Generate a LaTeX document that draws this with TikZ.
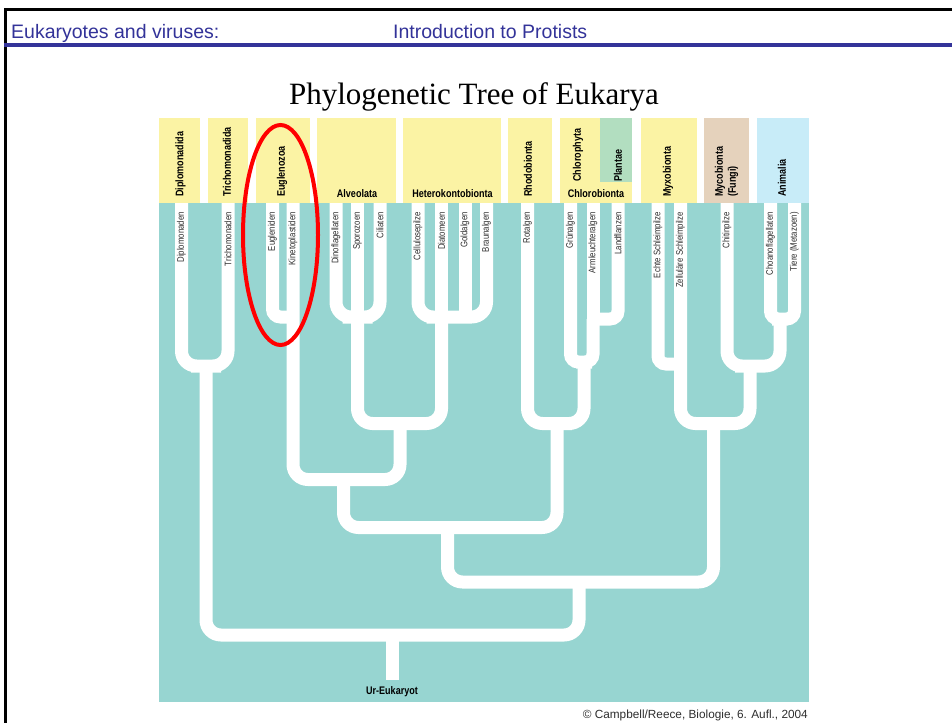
\documentclass[tikz,border=0pt]{standalone}
\usepackage{fontspec}
\setmainfont{Liberation Serif}
\setsansfont{Liberation Sans}
\newfontfamily\narrowfont[FakeStretch=0.82]{Liberation Sans}
\usetikzlibrary{positioning}
\definecolor{slideblue}{RGB}{51,51,153}
\definecolor{treeteal}{RGB}{151,213,209}
\definecolor{cladeyellow}{RGB}{251,243,164}
\definecolor{cladegreen}{RGB}{178,222,192}
\definecolor{cladetan}{RGB}{229,210,188}
\definecolor{cladesky}{RGB}{200,236,248}
\definecolor{labelgray}{RGB}{45,45,45}

\begin{document}
\begin{tikzpicture}[x=1pt, y=-1pt,
    branch/.style={draw=white, line width=13pt, rounded corners=15pt},
    twig/.style={draw=white, line width=13pt, rounded corners=8pt},
    taxon/.style={font=\narrowfont\fontsize{9.5}{10}\selectfont, text=labelgray,
                  rotate=90, anchor=east, inner sep=0pt},
    group/.style={font=\narrowfont\bfseries\fontsize{11}{13}\selectfont, text=black,
                  rotate=90, anchor=west, inner sep=0pt, align=left},
    grouph/.style={font=\narrowfont\bfseries\fontsize{11}{13}\selectfont, text=black,
                   anchor=base, inner sep=0pt},
]
    \useasboundingbox (0,0) rectangle (952,723);

    % Slide frame
    \draw[black, line width=2.5pt] (4,9.5) -- (952,9.5);
    \draw[black, line width=2.5pt] (5.5,8.3) -- (5.5,723);
    \draw[slideblue, line width=3.3pt] (4.3,45) -- (952,45);
    \node[font=\sffamily\fontsize{19.5}{22}\selectfont, text=slideblue, anchor=base west,
          inner sep=0pt] (topic) at (11,38) {Eukaryotes and viruses:};
    \node[font=\sffamily\fontsize{19.5}{22}\selectfont, text=slideblue, anchor=base west,
          inner sep=0pt] (section) at (393,38) {Introduction to Protists};
    \node[font=\fontsize{31}{36}\selectfont, anchor=base, inner sep=0pt] (title)
        at (474,104) {Phylogenetic Tree of Eukarya};

    % Clade boxes
    \fill[treeteal] (159,203) rectangle (809,702);
    \fill[cladeyellow] (159,118) rectangle (200,203);
    \fill[cladeyellow] (208,118) rectangle (248,203);
    \fill[cladeyellow] (256,118) rectangle (310,203);
    \fill[cladeyellow] (317,118) rectangle (396,203);
    \fill[cladeyellow] (403,118) rectangle (501,203);
    \fill[cladeyellow] (508,118) rectangle (552,203);
    \fill[cladeyellow] (560,118) rectangle (600,203);
    \fill[cladegreen] (600,118) rectangle (632,182);
    \fill[cladeyellow] (600,182) rectangle (632,203);
    \fill[cladeyellow] (641,118) rectangle (697,203);
    \fill[cladetan] (704,118) rectangle (749,203);
    \fill[cladesky] (757,118) rectangle (809,203);

    \node[group] (diplomonadida) at (180.5,197) {Diplomonadida};
    \node[group] (trichomonadida) at (227,197) {Trichomonadida};
    \node[group] (euglenozoa) at (282,197) {Euglenozoa};
    \node[grouph] (alveolata) at (357,197.5) {Alveolata};
    \node[grouph] (heterokonto) at (452.5,197.5) {Heterokontobionta};
    \node[group] (rhodobionta) at (528,197) {Rhodobionta};
    \node[group] (chlorophyta) at (578,182) {Chlorophyta};
    \node[group] (plantae) at (618,182) {Plantae};
    \node[grouph] (chlorobionta) at (596,197.5) {Chlorobionta};
    \node[group] (myxobionta) at (668,197) {Myxobionta};
    \node[group] (mycobionta) at (726.5,197) {Mycobionta\\(Fungi)};
    \node[group] (animalia) at (782,197) {Animalia};

    % Leaves
    \coordinate (dip) at (181.5,203);
    \coordinate (tri) at (228,203);
    \coordinate (eug) at (272.5,203);
    \coordinate (kin) at (293,203);
    \coordinate (din) at (336,203);
    \coordinate (spo) at (357.5,203);
    \coordinate (cil) at (380,203);
    \coordinate (cel) at (418,203);
    \coordinate (dia) at (441.5,203);
    \coordinate (gol) at (465,203);
    \coordinate (bra) at (486.5,203);
    \coordinate (rot) at (527.5,203);
    \coordinate (gru) at (570.5,203);
    \coordinate (arm) at (593,203);
    \coordinate (lan) at (618,203);
    \coordinate (ech) at (658,203);
    \coordinate (zel) at (680.5,203);
    \coordinate (chi) at (727,203);
    \coordinate (cho) at (770.5,203);
    \coordinate (tie) at (794.5,203);

    % Junctions
    \coordinate (jdt) at (206,366);
    \coordinate (jeu) at (293,317);
    \coordinate (jal) at (357.5,317);
    \coordinate (jhe) at (441.5,317);
    \coordinate (jah) at (400,423.5);
    \coordinate (jex) at (343.5,479.5);
    \coordinate (jlp) at (593,319);
    \coordinate (jch) at (584,362);
    \coordinate (jrc) at (557,423.5);
    \coordinate (jpl) at (447.5,527.5);
    \coordinate (jmy) at (680.5,364);
    \coordinate (jan) at (780,319);
    \coordinate (jfa) at (750,366);
    \coordinate (jop) at (713.5,423.5);
    \coordinate (jun) at (579,582);
    \coordinate (jroot) at (392,635);
    \coordinate (root) at (392,680);

    % Branches
    \draw[branch] (dip) |- (jdt) -| (tri);
    \draw[twig] (eug) |- (jeu);
    \draw[branch] (din) |- (jal) -| (cil);
    \draw[branch] (spo) -- (jal);
    \draw[branch] (cel) |- (jhe) -| (bra);
    \draw[branch] (dia) -- (jhe);
    \draw[branch] (gol) -- (gol |- jhe);
    \draw[branch] (jal) |- (jah) -| (jhe);
    \draw[branch] (kin) |- (jex) -| (jah);
    \draw[twig] (lan) |- (jlp);
    \draw[branch] (arm) -- (jlp);
    \draw[twig] (gru) |- (jch) -| (jlp);
    \draw[branch] (rot) |- (jrc) -| (jch);
    \draw[branch] (jex) |- (jpl) -| (jrc);
    \draw[twig] (ech) |- (jmy);
    \draw[twig] (cho) |- (jan) -| (tie);
    \draw[branch] (chi) |- (jfa) -| (jan);
    \draw[branch] (zel) |- (jop) -| (jfa);
    \draw[branch] (jpl) |- (jun) -| (jop);
    \draw[branch] (jdt) |- (jroot) -| (jun);
    \draw[branch] (jroot) -- (root);

    % Taxon labels
    \node[taxon] (diplomonaden) at (181.5,212) {Diplomonaden};
    \node[taxon] (trichomonaden) at (228,212) {Trichomonaden};
    \node[taxon] (eugleniden) at (272.5,212) {Eugleniden};
    \node[taxon] (kinetoplastiden) at (293,212) {Kinetoplastiden};
    \node[taxon] (dinoflagellaten) at (336,212) {Dinoflagellaten};
    \node[taxon] (sporozoen) at (357.5,212) {Sporozoen};
    \node[taxon] (ciliaten) at (380,212) {Ciliaten};
    \node[taxon] (cellulosepilze) at (418,212) {Cellulosepilze};
    \node[taxon] (diatomeen) at (441.5,212) {Diatomeen};
    \node[taxon] (goldalgen) at (465,212) {Goldalgen};
    \node[taxon] (braunalgen) at (486.5,212) {Braunalgen};
    \node[taxon] (rotalgen) at (527.5,212) {Rotalgen};
    \node[taxon] (gruenalgen) at (570.5,212) {Grünalgen};
    \node[taxon] (armleuchter) at (593,212) {Armleuchteralgen};
    \node[taxon] (landpflanzen) at (618,212) {Landflanzen};
    \node[taxon] (echte) at (658,212) {Echte Schleimpilze};
    \node[taxon] (zellulaere) at (680.5,212) {Zelluläre Schleimpilze};
    \node[taxon] (chitinpilze) at (727,212) {Chitinpilze};
    \node[taxon] (choano) at (770.5,212) {Choanoflagellaten};
    \node[taxon] (tiere) at (794.5,212) {Tiere (Metazoen)};

    \node[grouph, anchor=north, below=6pt of root] (ureukaryot) {Ur-Eukaryot};

    % Highlight
    \draw[red, line width=4pt] (280.5,235) ellipse [x radius=37.5, y radius=110];

    \node[font=\sffamily\fontsize{11.8}{13}\selectfont, text=labelgray, anchor=base east,
          inner sep=0pt] (credit) at (808,718) {© Campbell/Reece, Biologie, 6. Aufl., 2004};
\end{tikzpicture}
\end{document}
